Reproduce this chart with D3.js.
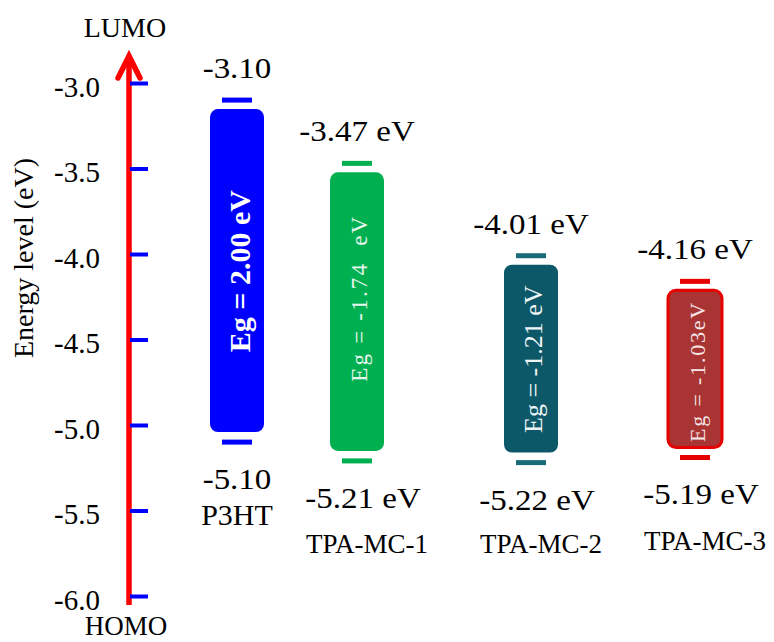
<!DOCTYPE html>
<html>
<head>
<meta charset="utf-8">
<script src="https://cdn.jsdelivr.net/npm/d3@7"></script>
<style>
  html, body { margin: 0; padding: 0; background: #fff; }
  svg { display: block; }
</style>
</head>
<body>
<script>
// ---- data ----
const categories = ["P3HT", "TPA-MC-1", "TPA-MC-2", "TPA-MC-3"];
const lumo = [-3.10, -3.47, -4.01, -4.16];
const homo = [-5.10, -5.21, -5.22, -5.19];
const lumoLabels = ["-3.10", "-3.47 eV", "-4.01 eV", "-4.16 eV"];
const homoLabels = ["-5.10", "-5.21 eV", "-5.22 eV", "-5.19 eV"];
const gapLabels = ["Eg = 2.00 eV", "Eg = -1.74  eV", "Eg = -1.21 eV", "Eg = -1.03eV"];
const yTicks = [-3.0, -3.5, -4.0, -4.5, -5.0, -5.5, -6.0];
const yTickLabels = ["-3.0", "-3.5", "-4.0", "-4.5", "-5.0", "-5.5", "-6.0"];
const yTitle = "Energy level (eV)";

// ---- styles ----
const serif = "'Liberation Serif', 'Times New Roman', Times, serif";
const barFill = ["#0000ff", "#00b050", "#0d5868", "#a83434"];
const barStroke = ["none", "none", "none", "#e60000"];
const dashColor = ["#0000ff", "#00b050", "#1a6b78", "#e60000"];
const gapWeight = ["bold", "normal", "normal", "normal"];
const gapSize = [30, 23, 26, 22];
const gapSpacing = [0, 2.2, 0, 1.8];
const gapShift = [0, -14, 0, 2];
const gapFill = ["#ffffff", "#e6f6ec", "#eef4f6", "#f6e6e6"];

const W = 774, H = 642;
const svg = d3.select("body").append("svg").attr("width", W).attr("height", H);

const y = d3.scaleLinear().domain([-3, -6]).range([83, 596]);
const x = d3.scaleOrdinal().domain(categories).range([237, 357, 531, 695]);
const axisX = 129;

// ---- axis line with arrow ----
svg.append("line")
  .attr("x1", axisX).attr("x2", axisX)
  .attr("y1", y(-6) + 9).attr("y2", y(-3) - 26)
  .attr("stroke", "#ff0000").attr("stroke-width", 5.5);
svg.append("path")
  .attr("d", `M${axisX - 11},${y(-3) - 5} L${axisX},${y(-3) - 27} L${axisX + 11},${y(-3) - 5}`)
  .attr("fill", "none").attr("stroke", "#ff0000").attr("stroke-width", 5.5)
  .attr("stroke-linecap", "round").attr("stroke-linejoin", "miter");

// ---- ticks ----
const axis = d3.axisLeft(y)
  .tickValues(yTicks)
  .tickFormat((d, i) => yTickLabels[i])
  .tickSizeInner(-19).tickSizeOuter(0).tickPadding(29);
const gAxis = svg.append("g").attr("transform", `translate(${axisX},0)`).call(axis)
  .style("font-family", serif).style("font-size", "29px");
gAxis.select(".domain").remove();
gAxis.selectAll(".tick line").attr("x1", 1).attr("stroke", "#0000ff").attr("stroke-width", 4);
gAxis.selectAll(".tick text").attr("fill", "#000").attr("dy", "0.45em");

// LUMO / HOMO
svg.append("text").attr("x", 125).attr("y", 37).attr("text-anchor", "middle")
  .style("font-family", serif).style("font-size", "28px").text("LUMO");
svg.append("text").attr("x", 126).attr("y", 635).attr("text-anchor", "middle")
  .style("font-family", serif).style("font-size", "27px").text("HOMO");

// y title
svg.append("text")
  .attr("transform", `translate(33,258) rotate(-90)`)
  .attr("text-anchor", "middle")
  .style("font-family", serif).style("font-size", "28px")
  .text(yTitle);

// ---- bars ----
const data = categories.map((c, i) => ({ c, i, lumo: lumo[i], homo: homo[i] }));
const barW = 54, dashW = 30;

const g = svg.append("g");
g.selectAll("rect.bar").data(data).join("rect")
  .attr("class", "bar")
  .attr("x", d => x(d.c) - barW / 2)
  .attr("width", barW)
  .attr("y", d => y(d.lumo) + 9)
  .attr("height", d => y(d.homo) - y(d.lumo) - 19)
  .attr("rx", 8).attr("ry", 8)
  .attr("fill", d => barFill[d.i])
  .attr("stroke", d => barStroke[d.i])
  .attr("stroke-width", 3);

g.selectAll("line.lumo").data(data).join("line")
  .attr("x1", d => x(d.c) - dashW / 2).attr("x2", d => x(d.c) + dashW / 2)
  .attr("y1", d => y(d.lumo)).attr("y2", d => y(d.lumo))
  .attr("stroke", d => dashColor[d.i]).attr("stroke-width", 5);
g.selectAll("line.homo").data(data).join("line")
  .attr("x1", d => x(d.c) - dashW / 2).attr("x2", d => x(d.c) + dashW / 2)
  .attr("y1", d => y(d.homo)).attr("y2", d => y(d.homo))
  .attr("stroke", d => dashColor[d.i]).attr("stroke-width", 5);

// gap labels inside bars
g.selectAll("text.gap").data(data).join("text")
  .attr("transform", d => `translate(${x(d.c) + 2},${(y(d.lumo) + y(d.homo)) / 2 + gapShift[d.i]}) rotate(-90)`)
  .attr("text-anchor", "middle").attr("dy", "0.35em")
  .style("font-family", serif)
  .style("font-weight", d => gapWeight[d.i])
  .style("font-size", d => gapSize[d.i] + "px")
  .style("letter-spacing", d => gapSpacing[d.i] + "px")
  .style("white-space", "pre")
  .attr("fill", d => gapFill[d.i])
  .text(d => gapLabels[d.i]);

// value labels
g.selectAll("text.lumoLab").data(data).join("text")
  .attr("transform", d => `translate(${x(d.c)},${y(d.lumo) - 22}) scale(1.1,1)`)
  .attr("text-anchor", "middle")
  .style("font-family", serif).style("font-size", "30px")
  .text(d => lumoLabels[d.i]);
g.selectAll("text.homoLab").data(data).join("text")
  .attr("transform", d => `translate(${x(d.c) + (d.i === 0 ? 0 : 6)},${y(d.homo) + 47}) scale(1.1,1)`)
  .attr("text-anchor", "middle")
  .style("font-family", serif).style("font-size", "30px")
  .text(d => homoLabels[d.i]);

// category labels
g.selectAll("text.cat").data(data).join("text")
  .attr("x", d => x(d.c) + (d.i === 0 ? 0 : 10))
  .attr("y", d => d.i === 0 ? 525 : (d.i === 3 ? 550 : 553))
  .attr("text-anchor", "middle")
  .style("font-family", serif).style("font-size", d => (d.i === 0 ? 30 : 27) + "px")
  .text(d => d.c);
</script>
</body>
</html>
